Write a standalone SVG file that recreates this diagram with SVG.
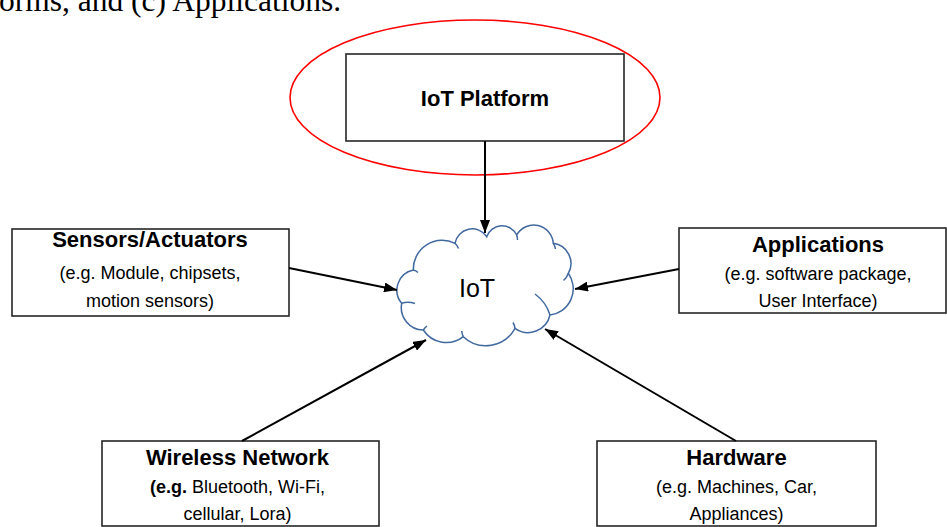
<svg xmlns="http://www.w3.org/2000/svg" width="947" height="527" viewBox="0 0 947 527">
<style>
.box{fill:#fff;stroke:#262626;stroke-width:1.6}
.t{font-family:"Liberation Sans",Arial,sans-serif;fill:#000;text-anchor:middle}
.b{font-weight:bold;font-size:22px}
.r{font-size:18px}
.conn{stroke:#000;stroke-width:2;fill:none;marker-end:url(#ah)}
.cloud{fill:#fff;stroke:#41699f;stroke-width:1.5}
.inner{fill:none;stroke:#41699f;stroke-width:1.5}
</style>
<defs>
<marker id="ah" markerUnits="userSpaceOnUse" markerWidth="13" markerHeight="10" viewBox="0 0 13 10" refX="13" refY="5" orient="auto">
<path d="M0,0 L13,5 L0,10 z" fill="#000"/>
</marker>
</defs>
<rect width="947" height="527" fill="#fff"/>
<text x="-1" y="11" style="font-family:'Liberation Serif','Times New Roman',serif;font-size:31.5px" fill="#000">orms, and (c) Applications.</text>

<g id="platform">
<ellipse cx="475" cy="97.5" rx="185" ry="77.5" fill="none" stroke="#ff0000" stroke-width="1.6"/>
<rect class="box" x="346" y="54" width="278" height="87"/>
<text class="t b" x="485" y="106">IoT Platform</text>
</g>

<g id="iot">
<path class="cloud" d="M401.7,303.3 A20.6,20.6 0 0 1 413.3,270 A28.9,28.9 0 0 1 455,243.3 A17.4,17.4 0 0 1 486.7,236.7 A16.25,16.25 0 0 1 516.7,235 A19.6,19.6 0 0 1 553.3,243.3 A20.2,20.2 0 0 1 568.3,273.3 A26.5,26.5 0 0 1 550,315 A22.5,22.5 0 0 1 515,328.3 A32.9,32.9 0 0 1 463.3,336.7 A27.4,27.4 0 0 1 423.3,330 A22.5,22.5 0 0 1 401.7,303.3 Z"/>
<path class="inner" d="M401.7,303.3 Q408,301 415,303.5 M413.3,270 Q416,270.5 418,272.5 M455,243.3 Q457.5,245.5 458.5,248.5 M516.7,235 Q517.5,237.5 517.5,240 M553.3,243.3 Q555,246 555.5,249 M568.3,273.3 Q567,277.5 563.5,280.5 M535,294 Q546,302 550,315 M515,328.3 Q514.5,325 513,322.5 M463.3,336.7 Q462,334 461.7,331 M423.3,330 Q425,327.5 427,326"/>
<text class="t" x="477" y="297" style="font-size:25px">IoT</text>
</g>

<g id="sensors">
<rect class="box" x="12" y="229" width="277" height="87"/>
<text class="t b" x="150" y="247">Sensors/Actuators</text>
<text class="t r" x="150" y="279">(e.g. Module, chipsets,</text>
<text class="t r" x="150" y="307">motion sensors)</text>
</g>

<g id="applications">
<rect class="box" x="679" y="228" width="267" height="85"/>
<text class="t b" x="818" y="252">Applications</text>
<text class="t r" x="818" y="280">(e.g. software package,</text>
<text class="t r" x="818" y="307">User Interface)</text>
</g>

<g id="wireless">
<rect class="box" x="102" y="441" width="277" height="85"/>
<text class="t b" x="237.5" y="465">Wireless Network</text>
<text class="t r" x="237.5" y="493"><tspan font-weight="bold">(e.g.</tspan> Bluetooth, Wi-Fi,</text>
<text class="t r" x="237.5" y="520">cellular, Lora)</text>
</g>

<g id="hardware">
<rect class="box" x="597" y="441" width="279" height="85"/>
<text class="t b" x="736.5" y="465">Hardware</text>
<text class="t r" x="736.5" y="493">(e.g. Machines, Car,</text>
<text class="t r" x="736.5" y="520">Appliances)</text>
</g>

<g id="connectors">
<line class="conn" x1="485" y1="141" x2="485" y2="233"/>
<line class="conn" x1="289" y1="268" x2="397" y2="290"/>
<line class="conn" x1="679" y1="269" x2="575" y2="289"/>
<line class="conn" x1="242" y1="441" x2="426" y2="340"/>
<line class="conn" x1="736" y1="441" x2="545" y2="329"/>
</g>
</svg>
